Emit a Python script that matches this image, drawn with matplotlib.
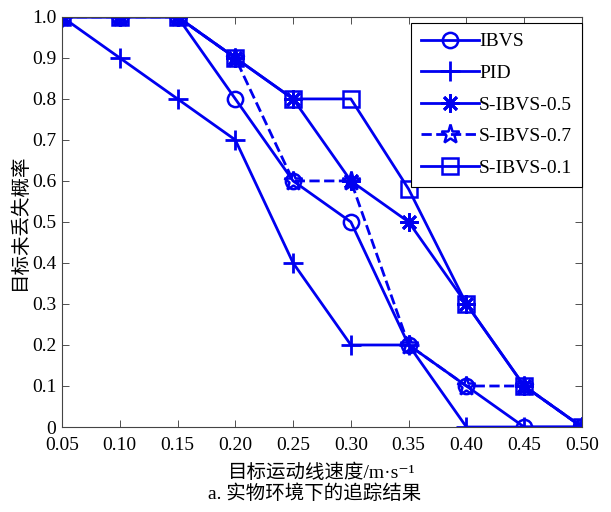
import matplotlib.pyplot as plt
import numpy as np

plt.rcParams['font.family'] = ['Liberation Serif', 'Noto Sans CJK SC', 'DejaVu Serif']

# 数据
speed = [0.05, 0.10, 0.15, 0.20, 0.25, 0.30, 0.35, 0.40, 0.45, 0.50]
ibvs = [1.0, 1.0, 1.0, 0.8, 0.6, 0.5, 0.2, 0.1, 0.0, 0.0]
pid = [1.0, 0.9, 0.8, 0.7, 0.4, 0.2, 0.2, 0.0, 0.0, 0.0]
sibvs_05 = [1.0, 1.0, 1.0, 0.9, 0.8, 0.6, 0.5, 0.3, 0.1, 0.0]
sibvs_07 = [1.0, 1.0, 1.0, 0.9, 0.6, 0.6, 0.2, 0.1, 0.1, 0.0]
sibvs_01 = [1.0, 1.0, 1.0, 0.9, 0.8, 0.8, 0.58, 0.3, 0.1, 0.0]

xticks = [0.05, 0.10, 0.15, 0.20, 0.25, 0.30, 0.35, 0.40, 0.45, 0.50]
xticklabels = ['0.05', '0.10', '0.15', '0.20', '0.25', '0.30', '0.35', '0.40', '0.45', '0.50']
yticks = [0, 0.1, 0.2, 0.3, 0.4, 0.5, 0.6, 0.7, 0.8, 0.9, 1.0]
yticklabels = ['0', '0.1', '0.2', '0.3', '0.4', '0.5', '0.6', '0.7', '0.8', '0.9', '1.0']

c = '#0000F0'
fig = plt.figure(figsize=(6.11, 5.12), dpi=100)
ax = fig.add_axes([0.1015, 0.166, 0.851, 0.801])

ax.plot(speed, ibvs, color=c, lw=2, marker='o', ms=11, mfc='none', mew=1.8, label='IBVS')
ax.plot(speed, pid, color=c, lw=2, marker='+', ms=15, mew=2, label='PID')
ax.plot(speed, sibvs_05, color=c, lw=2, marker=(8, 2, 0), ms=13, mew=2, label='S-IBVS-0.5')
ax.plot(speed, sibvs_07, color=c, lw=2, ls='--', marker='*', ms=14, mfc='none', mew=1.8, label='S-IBVS-0.7')
ax.plot(speed, sibvs_01, color=c, lw=2, marker='s', ms=11, mfc='none', mew=1.8, label='S-IBVS-0.1')

ax.set_xlim(0.05, 0.50)
ax.set_ylim(0, 1.0)
ax.set_xticks(xticks)
ax.set_xticklabels(xticklabels)
ax.set_yticks(yticks)
ax.set_yticklabels(yticklabels)
ax.tick_params(direction='in', top=True, right=True, labelsize=14, length=5, width=0.6,
               colors='#333333', labelcolor='black')
ax.tick_params(axis='x', pad=7)
ax.tick_params(axis='y', pad=4)
for s in ax.spines.values():
    s.set_linewidth(0.8)
    s.set_color('#444444')

ax.set_xlabel('目标运动线速度/m·s⁻¹', fontsize=14, labelpad=7)
ax.set_ylabel('目标未丢失概率', fontsize=14, labelpad=2)
fig.text(0.515, 0.035, 'a. 实物环境下的追踪结果', ha='center', va='center', fontsize=14)

leg = ax.legend(loc='upper right', bbox_to_anchor=(1.0, 0.985), fontsize=14, frameon=True, fancybox=False,
                edgecolor='black', framealpha=1, handlelength=3.0, handletextpad=0.0,
                borderpad=0.5, labelspacing=0.72, borderaxespad=0.0)
leg.get_frame().set_linewidth(0.8)

fig.savefig('out.png', dpi=100)
